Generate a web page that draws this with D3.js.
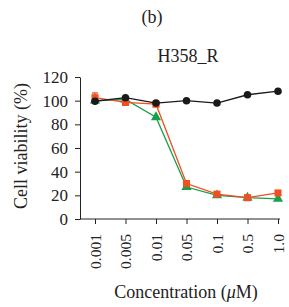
<!DOCTYPE html>
<html>
<head>
<meta charset="utf-8">
<script src="https://cdn.jsdelivr.net/npm/d3@7"></script>
<style>
  body { margin: 0; background: #fff; }
  text { font-family: "Liberation Serif", "DejaVu Serif", serif; fill: #222; }
</style>
</head>
<body>
<div id="chart"></div>
<script>
const concentrations = ["0.001", "0.005", "0.01", "0.05", "0.1", "0.5", "1.0"];
const blackSeries = [99.5, 102.5, 98, 100, 98, 105, 108];
const redSeries = [102.5, 98.5, 97, 30, 21, 18, 22];
const greenSeries = [100, 101, 86, 27, 20, 18, 17];
const redErr = [4, 1, 1, 2, 1, 1, 1];
const yTicks = [0, 20, 40, 60, 80, 100, 120];

const w = 289, h = 307;
const margins = { top: 77, left: 80, bottom: 88, right: 11 };

const svg = d3.select("#chart").append("svg")
  .attr("width", w).attr("height", h);

const xScale = d3.scalePoint()
  .domain(concentrations)
  .range([95, 278]);

const yScale = d3.scaleLinear()
  .domain([0, 120])
  .range([219, 77]);

// y axis
const yAxis = svg.append("g")
  .attr("transform", `translate(${margins.left},0)`)
  .call(d3.axisLeft(yScale).tickValues(yTicks).tickSize(5).tickSizeOuter(0));
yAxis.selectAll("text").style("font-size", "17px").attr("x", -12);

// x axis
const xAxis = svg.append("g")
  .attr("transform", "translate(0,219)")
  .call(d3.axisBottom(xScale).tickSize(5).tickSizeOuter(0));
xAxis.select(".domain").attr("d", `M${margins.left},0H280`);
xAxis.selectAll("text")
  .style("font-size", "15.5px")
  .attr("transform", "rotate(-90)")
  .attr("x", -15).attr("y", 0).attr("dy", "0.35em")
  .style("text-anchor", "end");

svg.selectAll(".domain, .tick line").attr("stroke", "#222");

function drawSeries(vals, color, shape) {
  const line = d3.line()
    .x((d, i) => xScale(concentrations[i]))
    .y(d => yScale(d));
  svg.append("path")
    .datum(vals)
    .attr("fill", "none")
    .attr("stroke", color)
    .attr("stroke-width", 1.3)
    .attr("d", line);
  svg.append("g").selectAll("path")
    .data(vals)
    .join("path")
    .attr("transform", (d, i) => `translate(${xScale(concentrations[i])},${yScale(d)})`)
    .attr("d", d3.symbol().type(shape).size(shape === d3.symbolSquare ? 50 : 45))
    .attr("fill", color);
}

// error bars for red
const eb = svg.append("g").attr("stroke", "#f04e23").attr("stroke-width", 1.3);
eb.selectAll("line.v")
  .data(redSeries)
  .join("line")
  .attr("class", "v")
  .attr("x1", (d, i) => xScale(concentrations[i]))
  .attr("x2", (d, i) => xScale(concentrations[i]))
  .attr("y1", (d, i) => yScale(d + redErr[i]))
  .attr("y2", (d, i) => yScale(d - redErr[i]));
eb.selectAll("line.c")
  .data(redSeries)
  .join("line")
  .attr("class", "c")
  .attr("x1", (d, i) => xScale(concentrations[i]) - 3)
  .attr("x2", (d, i) => xScale(concentrations[i]) + 3)
  .attr("y1", (d, i) => yScale(d + redErr[i]))
  .attr("y2", (d, i) => yScale(d + redErr[i]));

drawSeries(greenSeries, "#17a04a", d3.symbolTriangle);
drawSeries(redSeries, "#f04e23", d3.symbolSquare);
drawSeries(blackSeries, "#1a1a1a", d3.symbolCircle);

// titles
svg.append("text")
  .attr("x", 152).attr("y", 23)
  .attr("text-anchor", "middle")
  .style("font-size", "18px")
  .text("(b)");

svg.append("text")
  .attr("x", 188).attr("y", 62)
  .attr("text-anchor", "middle")
  .style("font-size", "18px")
  .text("H358_R");

svg.append("text")
  .attr("transform", "translate(27,146) rotate(-90)")
  .attr("text-anchor", "middle")
  .style("font-size", "18px")
  .text("Cell viability (%)");

const xl = svg.append("text")
  .attr("x", 186).attr("y", 298)
  .attr("text-anchor", "middle")
  .style("font-size", "18px");
xl.append("tspan").text("Concentration (");
xl.append("tspan").style("font-style", "italic").text("μ");
xl.append("tspan").text("M)");
</script>
</body>
</html>
